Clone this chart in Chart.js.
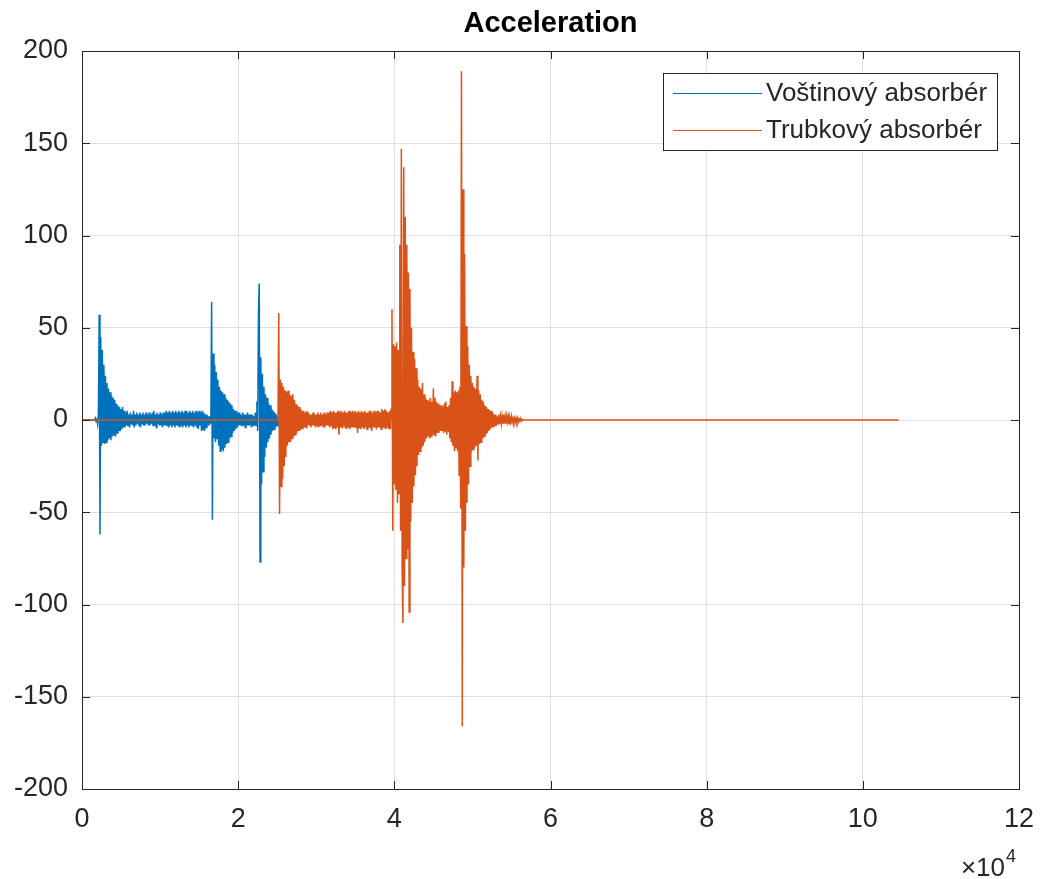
<!DOCTYPE html>
<html>
<head>
<meta charset="utf-8">
<title>Acceleration</title>
<script src="https://cdn.jsdelivr.net/npm/chart.js@4.4.1/dist/chart.umd.min.js"></script>
<style>
  html, body { margin: 0; padding: 0; background: #fff; }
  canvas { display: block; }
</style>
</head>
<body>
<canvas id="accel_chart" width="1041" height="879"></canvas>
<script>
// signal samples, one every 100 samples on the x axis
const blueHeadX = [0]
const blueHeadY = [0]
const blueStart = 1500
const blueStep = 100
const blueY = [
    0, 0, 1, -1, 1, -2, 3, 57, -62, 45,
    -14, 38, -12, 30, -13, 24, -12, 20, -11, 17,
    -10, 15, -11, 13, -9, 12, -8, 11, -9, 9,
    -7, 8, -6, 7, -6, 6, -5, 7, -4, 5,
    -4, 4, -3, 5, -3, 3, -4, 4, -2, 3,
    -3, 5, -4, 3, -3, 4, -2, 3, -3, 4,
    -4, 3, -2, 4, -3, 3, -3, 4, -2, 3,
    -3, 4, -3, 3, -2, 4, -3, 5, -3, 3,
    -4, 4, -2, 3, -3, 4, -3, 3, -4, 4,
    -3, 4, -3, 5, -3, 4, -4, 5, -3, 4,
    -4, 5, -3, 4, -4, 5, -3, 4, -3, 5,
    -4, 4, -3, 5, -4, 4, -3, 5, -4, 5,
    -3, 4, -4, 5, -3, 4, -3, 5, -4, 4,
    -3, 5, -4, 4, -5, 5, -3, 4, -6, 5,
    -5, 4, -6, 3, -4, 3, -3, 2, -3, 2,
    -2, 64, -54, 36, -10, 30, -12, 26, -10, 22,
    -14, 18, -17, 16, -16, 15, -17, 14, -15, 12,
    -13, 11, -12, 10, -10, 9, -9, 8, -7, 6,
    -6, 5, -5, 5, -4, 4, -3, 4, -3, 3,
    -3, 4, -3, 3, -4, 3, -3, 4, -3, 3,
    -3, 3, -4, 3, -3, 2, -3, 4, -3, 10,
    -6, 58, 74, -77, 34, -35, 25, -28, 18, -20,
    14, -15, 12, -12, 9, -10, 8, -8, 6, -6,
    5, -5, 4, -4, 3, -3, 2, -2, 0
]

const orangeHeadX = [0, 24900]
const orangeHeadY = [0, 0]
const orangeStart = 25000
const orangeStep = 100
const orangeY = [
    0, 1, 58, -51, 22, -36, 20, -32, 18, -25,
    16, -20, 15, -14, 16, -12, 14, -12, 13, -10,
    14, -9, 11, -8, 9, -7, 8, -6, 7, -6,
    6, -5, 5, -5, 5, -4, 4, -4, 5, -3,
    4, -3, 3, -4, 3, -3, 4, -3, 3, -4,
    3, -3, 4, -4, 3, -3, 4, -3, 3, -4,
    4, -4, 3, -3, 4, -3, 4, -4, 5, -3,
    4, -5, 5, -4, 4, -5, 4, -4, 5, -8,
    4, -4, 5, -4, 4, -3, 5, -4, 4, -5,
    4, -4, 5, -5, 4, -4, 5, -4, 4, -4,
    5, -4, 4, -7, 5, -4, 4, -5, 5, -4,
    4, -5, 5, -4, 4, -5, 4, -4, 5, -4,
    5, -6, 4, -4, 5, -4, 4, -5, 5, -4,
    5, -4, 4, -5, 6, -4, 5, -4, 6, -5,
    5, -4, 4, -5, 5, -5, 6, 60, -60, 41,
    -35, 40, -38, 42, -45, 38, -40, 95, -60, 147,
    -80, -110, 137, -90, 110, -75, 95, -70, 80, -104,
    71, -55, 50, -45, 37, -36, 33, -30, 28, -25,
    22, -19, 18, -17, 17, -15, 20, -14, 14, -12,
    12, -10, 11, -9, 10, -10, 12, -9, 10, -8,
    17, -8, 12, -9, 10, -7, 9, -7, 8, -6,
    8, -6, 7, -7, 9, -6, 10, -8, 7, -6,
    8, -10, 12, -12, 21, -14, 15, -17, 16, -15,
    15, -17, 16, -30, 18, -48, 189, -166, 125, -80,
    90, -60, 51, -45, 40, -35, 30, -25, 24, -17,
    20, -16, 18, -15, 17, -14, 24, -22, 16, -13,
    14, -12, 11, -10, 10, -9, 8, -8, 7, -7,
    6, -6, 5, -5, 5, -4, 4, -4, 3, -3,
    3, -3, 2, -2, 3, -2, 2, -2, 2, -2,
    3, -2, 2, -2, 2, -1, 2, -2, 1, -1,
    2, -1, 1, -1, 1, -1, 1, -1, 1, -1,
    0.5, -0.5, 0.5, -0.5, 0.3, 0
]
const orangeTailX = [104600]
const orangeTailY = [0]

const seriesNames = ["Voštinový absorbér", "Trubkový absorbér"]
const seriesColors = ["#0072BD", "#D95319"]
const chartTitle = "Acceleration"
const xExponent = "4"

const fontFamily = "'Liberation Sans', Arial, Helvetica, sans-serif"
const axisColor = "#262626"

function sampled(start, step, values) {
    return values.map((v, i) => ({x: start + i * step, y: v}))
}
function pairs(xs, ys) {
    return xs.map((x, i) => ({x: x, y: ys[i]}))
}

const blueData = pairs(blueHeadX, blueHeadY)
    .concat(sampled(blueStart, blueStep, blueY))
const orangeData = pairs(orangeHeadX, orangeHeadY)
    .concat(sampled(orangeStart, orangeStep, orangeY))
    .concat(pairs(orangeTailX, orangeTailY))

// box, inward ticks, title, legend and the x10^4 label, MATLAB style
const matlabFrame = {
    id: 'matlabFrame',
    afterDraw(chart) {
        const ctx = chart.ctx
        const a = chart.chartArea
        const xs = chart.scales.x
        const ys = chart.scales.y
        ctx.save()
        ctx.strokeStyle = axisColor
        ctx.lineWidth = 1
        ctx.strokeRect(Math.round(a.left) + 0.5, Math.round(a.top) + 0.5,
            Math.round(a.right - a.left), Math.round(a.bottom - a.top))

        const tl = 8
        ctx.beginPath()
        for (let t of xs.ticks) {
            const px = Math.round(xs.getPixelForValue(t.value)) + 0.5
            ctx.moveTo(px, a.bottom); ctx.lineTo(px, a.bottom - tl)
            ctx.moveTo(px, a.top); ctx.lineTo(px, a.top + tl)
        }
        for (let t of ys.ticks) {
            const py = Math.round(ys.getPixelForValue(t.value)) + 0.5
            ctx.moveTo(a.left, py); ctx.lineTo(a.left + tl, py)
            ctx.moveTo(a.right, py); ctx.lineTo(a.right - tl, py)
        }
        ctx.stroke()

        // title
        ctx.fillStyle = "#000"
        ctx.font = "bold 29px " + fontFamily
        ctx.textAlign = "center"
        ctx.textBaseline = "middle"
        ctx.fillText(chartTitle, (a.left + a.right) / 2, 24)

        // legend
        const lx = 663, ly = 73, lw = 334, lh = 77
        ctx.fillStyle = "#fff"
        ctx.fillRect(lx, ly, lw, lh)
        ctx.strokeStyle = axisColor
        ctx.lineWidth = 1
        ctx.strokeRect(lx + 0.5, ly + 0.5, lw, lh)
        ctx.font = "26px " + fontFamily
        ctx.textAlign = "left"
        for (let i = 0; i < seriesNames.length; i++) {
            const y = ly + 20 + i * 37
            ctx.strokeStyle = seriesColors[i]
            ctx.lineWidth = 1.2
            ctx.beginPath()
            ctx.moveTo(lx + 10, y + 0.5); ctx.lineTo(lx + 99, y + 0.5)
            ctx.stroke()
            ctx.fillStyle = axisColor
            ctx.fillText(seriesNames[i], lx + 103, y + 1)
        }

        // x exponent
        ctx.fillStyle = axisColor
        ctx.textAlign = "right"
        ctx.textBaseline = "alphabetic"
        ctx.font = "26px " + fontFamily
        ctx.fillText("\u00D710", 1005, 876)
        ctx.textAlign = "left"
        ctx.font = "18px " + fontFamily
        ctx.fillText(xExponent, 1006, 862)
        ctx.restore()
    }
}

new Chart("accel_chart", {
    type: "line",
    data: {
        datasets: [
            {
                label: seriesNames[0],
                data: blueData,
                borderColor: seriesColors[0],
                borderWidth: 1.5,
                order: 1,
            },
            {
                label: seriesNames[1],
                data: orangeData,
                borderColor: seriesColors[1],
                borderWidth: 1.5,
                order: 0,
            }
        ]
    },
    options: {
        responsive: false,
        animation: false,
        layout: {padding: {top: 51, right: 22, left: 0, bottom: 0}},
        elements: {
            line: {tension: 0, fill: false},
            point: {radius: 0, hoverRadius: 0}
        },
        plugins: {
            legend: {display: false},
            title: {display: false},
            tooltip: {enabled: false}
        },
        scales: {
            x: {
                type: 'linear',
                min: 0, max: 120000,
                afterFit: (s) => { s.height = 90; s.paddingLeft = 0; s.paddingRight = 0 },
                grid: {color: '#dfdfdf', drawTicks: false},
                border: {display: false},
                ticks: {
                    stepSize: 20000,
                    padding: 14,
                    color: axisColor,
                    font: {family: fontFamily, size: 27},
                    maxRotation: 0,
                    callback: (v) => v / 10000
                }
            },
            y: {
                type: 'linear',
                min: -200, max: 200,
                afterFit: (s) => { s.width = 82; s.paddingTop = 0; s.paddingBottom = 0 },
                grid: {color: '#dfdfdf', drawTicks: false},
                border: {display: false},
                ticks: {
                    stepSize: 50,
                    padding: 14,
                    color: axisColor,
                    font: {family: fontFamily, size: 27}
                }
            }
        }
    },
    plugins: [matlabFrame]
});
</script>
</body>
</html>
